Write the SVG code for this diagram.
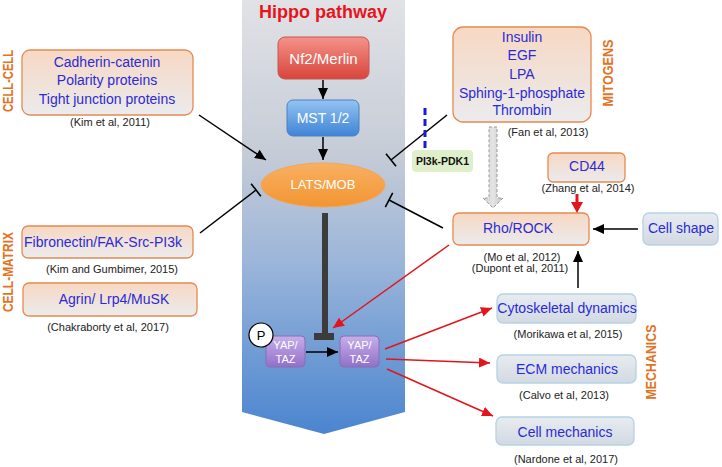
<svg xmlns="http://www.w3.org/2000/svg" width="722" height="467" viewBox="0 0 722 467">
<defs>
<linearGradient id="gPanel" x1="0" y1="0" x2="0" y2="1">
<stop offset="0" stop-color="#e1e2e6"/><stop offset="0.35" stop-color="#c6ccd7"/><stop offset="0.6" stop-color="#9cb6da"/><stop offset="1" stop-color="#4a85cf"/>
</linearGradient>
<linearGradient id="gOrange" x1="0" y1="0" x2="0" y2="1">
<stop offset="0" stop-color="#f7d8c3"/><stop offset="1" stop-color="#ebebed"/>
</linearGradient>
<linearGradient id="gMech" x1="0" y1="0" x2="0" y2="1">
<stop offset="0" stop-color="#e8ecf1"/><stop offset="1" stop-color="#d2d9e1"/>
</linearGradient>
<linearGradient id="gRed" x1="0" y1="0" x2="0" y2="1">
<stop offset="0" stop-color="#f4928a"/><stop offset="1" stop-color="#d8453b"/>
</linearGradient>
<linearGradient id="gBlue" x1="0" y1="0" x2="0" y2="1">
<stop offset="0" stop-color="#93c3f2"/><stop offset="1" stop-color="#3e84d6"/>
</linearGradient>
<linearGradient id="gPurple" x1="0" y1="0" x2="0" y2="1">
<stop offset="0" stop-color="#c8aeea"/><stop offset="1" stop-color="#9170c8"/>
</linearGradient>
<linearGradient id="gLats" x1="0" y1="0" x2="0" y2="1">
<stop offset="0" stop-color="#f9b062"/><stop offset="1" stop-color="#f29532"/>
</linearGradient>
<linearGradient id="gGrey" x1="0" y1="0" x2="1" y2="0">
<stop offset="0" stop-color="#d0d0d0"/><stop offset="0.5" stop-color="#e4e4e4"/><stop offset="1" stop-color="#c4c4c4"/>
</linearGradient>
<marker id="ab" markerUnits="userSpaceOnUse" markerWidth="12" markerHeight="10" refX="11" refY="5" orient="auto">
<path d="M0,0 L11,5 L0,10 z" fill="#000"/>
</marker>
<marker id="ar" markerUnits="userSpaceOnUse" markerWidth="12" markerHeight="10" refX="11" refY="5" orient="auto">
<path d="M0,0 L11,5 L0,10 z" fill="#e3151b"/>
</marker>
<marker id="tee" markerUnits="userSpaceOnUse" markerWidth="4" markerHeight="18" refX="2" refY="9" orient="auto">
<path d="M2,1 L2,17" stroke="#000" stroke-width="1.6"/>
</marker>
</defs>
<style>
text{font-family:"Liberation Sans",Arial,sans-serif}
.ob{fill:url(#gOrange);stroke:#e58a52;stroke-width:1.3}
.mb{fill:url(#gMech);stroke:#b5d2e4;stroke-width:1.3}
.bt{fill:#2b2bd6;font-size:14px;text-anchor:middle;dominant-baseline:central}
.ct{fill:#222;font-size:11px;text-anchor:middle;dominant-baseline:central}
.wt{fill:#fff;text-anchor:middle;dominant-baseline:central}
.vl{fill:#e2731f;font-size:14px;font-weight:bold;text-anchor:middle}
.bl{stroke:#000;stroke-width:1.5;fill:none}
.rl{stroke:#e3151b;stroke-width:1.5;fill:none}
</style>

<g id="panel">
<polygon points="242,0 405,0 405,412 324,434 242,412" fill="url(#gPanel)"/>
<text x="323" y="18" font-size="18" font-weight="bold" fill="#e8141c" text-anchor="middle">Hippo pathway</text>
</g>

<g id="nf2">
<rect x="278" y="37" width="91" height="42" rx="7" fill="url(#gRed)" stroke="#c8564e"/>
<text x="323.5" y="58" class="wt" font-size="15">Nf2/Merlin</text>
</g>
<g id="mst">
<rect x="287" y="100" width="72" height="36" rx="6" fill="url(#gBlue)" stroke="#4b80c0"/>
<text x="323" y="118" class="wt" font-size="14">MST 1/2</text>
</g>
<g id="lats">
<ellipse cx="323" cy="185" rx="62" ry="22" fill="url(#gLats)" stroke="#f3a45a"/>
<text x="323" y="184" class="wt" font-size="13">LATS/MOB</text>
</g>
<g id="yap1">
<rect x="266" y="336" width="39" height="31" rx="4" fill="url(#gPurple)" stroke="#8a6cb4"/>
<text x="285.5" y="345" class="wt" font-size="11">YAP/</text>
<text x="285.5" y="359" class="wt" font-size="11">TAZ</text>
</g>
<g id="p">
<circle cx="261" cy="335" r="12" fill="#fff" stroke="#000" stroke-width="1.2"/>
<text x="261" y="335" font-size="13" text-anchor="middle" dominant-baseline="central" fill="#000">P</text>
</g>
<g id="yap2">
<rect x="340" y="336" width="39" height="31" rx="4" fill="url(#gPurple)" stroke="#8a6cb4"/>
<text x="359.5" y="345" class="wt" font-size="11">YAP/</text>
<text x="359.5" y="359" class="wt" font-size="11">TAZ</text>
</g>

<g id="cellcell">
<text class="vl" transform="translate(13,81) rotate(-90)" textLength="62" lengthAdjust="spacingAndGlyphs">CELL-CELL</text>
<rect class="ob" x="22" y="50" width="171" height="65" rx="8"/>
<text class="bt" x="107" y="62">Cadherin-catenin</text>
<text class="bt" x="107" y="80">Polarity proteins</text>
<text class="bt" x="107" y="99">Tight junction proteins</text>
<text class="ct" x="110" y="122">(Kim et al, 2011)</text>
</g>

<g id="cellmatrix">
<text class="vl" transform="translate(13,272) rotate(-90)" textLength="80" lengthAdjust="spacingAndGlyphs">CELL-MATRIX</text>
</g>
<g id="fibronectin">
<rect class="ob" x="22" y="226" width="171" height="32" rx="6"/>
<text class="bt" x="103" y="242">Fibronectin/FAK-Src-PI3k</text>
<text class="ct" x="112" y="269">(Kim and Gumbimer, 2015)</text>
</g>
<g id="agrin">
<rect class="ob" x="23" y="283" width="174" height="33" rx="6"/>
<text class="bt" x="114" y="299">Agrin/ Lrp4/MuSK</text>
<text class="ct" x="108" y="327">(Chakraborty et al, 2017)</text>
</g>

<g id="mitogens">
<rect class="ob" x="453" y="27" width="138" height="95" rx="10"/>
<text class="bt" x="522" y="37">Insulin</text>
<text class="bt" x="522" y="55">EGF</text>
<text class="bt" x="522" y="74">LPA</text>
<text class="bt" x="522" y="93">Sphing-1-phosphate</text>
<text class="bt" x="522" y="110">Thrombin</text>
<text class="vl" transform="translate(613,73) rotate(-90)" textLength="67" lengthAdjust="spacingAndGlyphs">MITOGENS</text>
<text class="ct" x="548" y="132">(Fan et al, 2013)</text>
</g>

<g id="pi3k">
<rect x="412" y="150" width="61" height="22" rx="4" fill="#e0efcb"/>
<text x="442.5" y="161" font-size="10.5" font-weight="bold" fill="#111" text-anchor="middle" dominant-baseline="central">PI3k-PDK1</text>
</g>

<g id="cd44">
<rect class="ob" x="548" y="153" width="77" height="29" rx="5"/>
<text class="bt" x="587" y="166" font-size="13.5">CD44</text>
<text class="ct" x="588" y="188">(Zhang et al, 2014)</text>
</g>

<g id="rho">
<rect class="ob" x="453" y="213" width="136" height="32" rx="6"/>
<text class="bt" x="518" y="228" font-size="13.5">Rho/ROCK</text>
<text class="ct" x="522" y="257">(Mo et al, 2012)</text>
<text class="ct" x="520" y="268">(Dupont et al, 2011)</text>
</g>

<g id="cellshape">
<rect class="mb" x="643" y="213" width="75" height="32" rx="6" stroke="#a6cbe0"/>
<text class="bt" x="681" y="228" font-size="13.5">Cell shape</text>
</g>

<g id="cyto">
<rect class="mb" x="497" y="294" width="139" height="29" rx="6"/>
<text class="bt" x="567" y="308">Cytoskeletal dynamics</text>
<text class="ct" x="568" y="334">(Morikawa et al, 2015)</text>
</g>
<g id="ecm">
<rect class="mb" x="497" y="355" width="139" height="28" rx="6"/>
<text class="bt" x="567" y="369">ECM mechanics</text>
<text class="ct" x="564" y="395">(Calvo et al, 2013)</text>
</g>
<g id="cellmech">
<rect class="mb" x="496" y="417" width="138" height="28" rx="6"/>
<text class="bt" x="565" y="432">Cell mechanics</text>
<text class="ct" x="566" y="459">(Nardone et al, 2017)</text>
</g>
<g id="mechanics">
<text class="vl" transform="translate(656,362) rotate(-90)" textLength="75" lengthAdjust="spacingAndGlyphs">MECHANICS</text>
</g>

<g id="connectors">
<line class="bl" x1="323" y1="80" x2="323" y2="99" marker-end="url(#ab)"/>
<line class="bl" x1="323" y1="137" x2="323" y2="160" marker-end="url(#ab)"/>
<rect x="322" y="213" width="6" height="121" fill="#3c3c3c"/>
<rect x="314" y="333" width="20" height="7" fill="#3c3c3c"/>
<line class="bl" x1="306" y1="352" x2="338" y2="352" marker-end="url(#ab)"/>
<line class="bl" x1="199" y1="115" x2="266" y2="160" marker-end="url(#ab)"/>
<line class="bl" x1="200" y1="233" x2="256" y2="190" marker-end="url(#tee)"/>
<line class="bl" x1="447" y1="115" x2="391" y2="160" marker-end="url(#tee)"/>
<line class="bl" x1="443" y1="228" x2="389" y2="200" marker-end="url(#tee)"/>
<line x1="425" y1="108" x2="425" y2="152" stroke="#1a1ad0" stroke-width="3" stroke-dasharray="7,4"/>
<polygon points="489,127 497,127 497,198 503,198 493,208 483,198 489,198" fill="url(#gGrey)" stroke="#9a9a9a" stroke-dasharray="3,2"/>
<line x1="577" y1="194" x2="577" y2="204" stroke="#e3151b" stroke-width="3"/>
<path d="M571,202 L583,202 L577,213 z" fill="#e3151b"/>
<line class="bl" x1="638" y1="229" x2="593" y2="229" marker-end="url(#ab)"/>
<line class="bl" x1="578" y1="288" x2="578" y2="251" marker-end="url(#ab)"/>
<line class="rl" x1="449" y1="245" x2="333" y2="328" marker-end="url(#ar)"/>
<line class="rl" x1="385" y1="349" x2="492" y2="308" marker-end="url(#ar)"/>
<line class="rl" x1="386" y1="359" x2="490" y2="363" marker-end="url(#ar)"/>
<line class="rl" x1="387" y1="369" x2="493" y2="416" marker-end="url(#ar)"/>
</g>
</svg>
